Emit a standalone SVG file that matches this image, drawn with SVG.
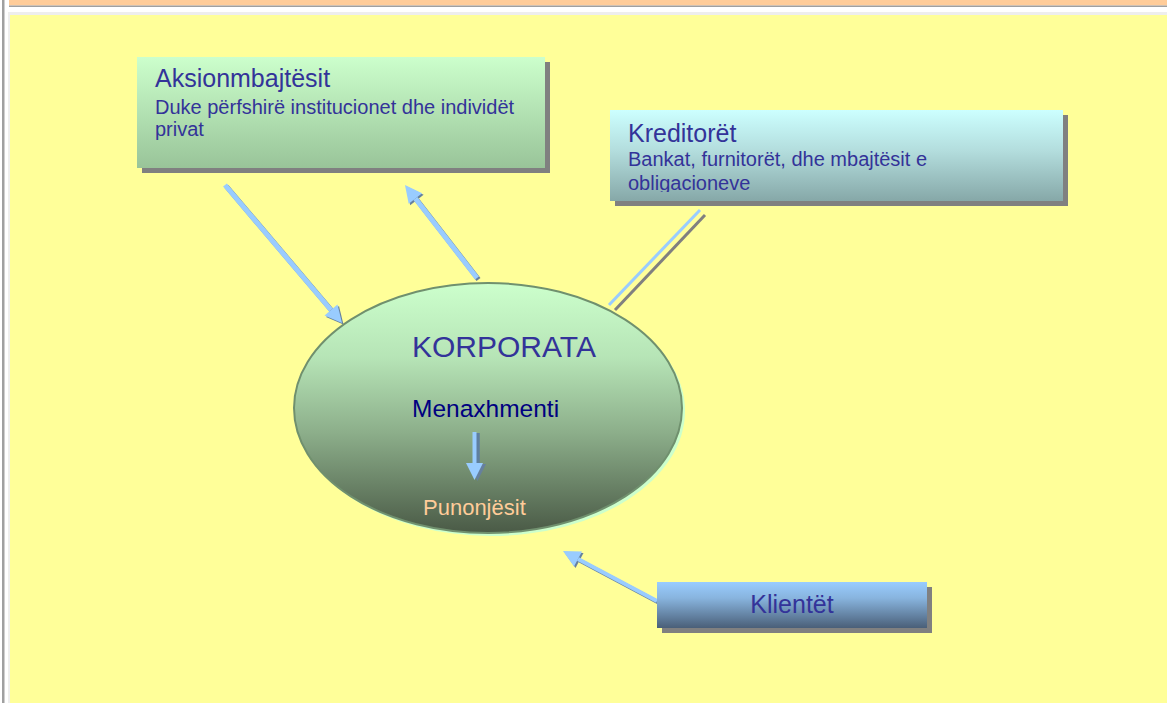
<svg xmlns="http://www.w3.org/2000/svg" width="1167" height="703" viewBox="0 0 1167 703">
<style>
.t{font-family:"Liberation Sans",Arial,sans-serif;fill:#333399}
.title{font-size:25px}
.sub{font-size:20px}
.shadow{fill:#808080}
.shaft{stroke:#99ccff;stroke-width:5;fill:none}
.shaft-sh{stroke:#66809e;stroke-width:5;fill:none}
</style>
<defs>
<linearGradient id="gA" x1="0" y1="0" x2="0" y2="1">
<stop offset="0" stop-color="#ccffcc"/><stop offset="1" stop-color="#99c499"/>
</linearGradient>
<linearGradient id="gK" x1="0" y1="0" x2="0" y2="1">
<stop offset="0" stop-color="#ccffff"/><stop offset="0.45" stop-color="#b3dddd"/><stop offset="1" stop-color="#86a8a8"/>
</linearGradient>
<linearGradient id="gC" x1="0" y1="0" x2="0" y2="1">
<stop offset="0" stop-color="#99ccff"/><stop offset="0.35" stop-color="#88b4de"/><stop offset="1" stop-color="#4a5f78"/>
</linearGradient>
<linearGradient id="gE" x1="0" y1="0" x2="0" y2="1">
<stop offset="0" stop-color="#ccffcc"/><stop offset="0.3" stop-color="#b6e4b6"/><stop offset="0.6" stop-color="#8cae8a"/><stop offset="1" stop-color="#4a5a46"/>
</linearGradient>
<marker id="head" markerUnits="userSpaceOnUse" markerWidth="20" markerHeight="20" refX="0" refY="0" orient="auto" overflow="visible">
<path d="M0,-8.5 L17,0 L0,8.5 z" fill="#99ccff"/>
</marker>
<marker id="head-sh" markerUnits="userSpaceOnUse" markerWidth="20" markerHeight="20" refX="0" refY="0" orient="auto" overflow="visible">
<path d="M0,-8.5 L17,0 L0,8.5 z" fill="#66809e"/>
</marker>
<clipPath id="clipK"><rect x="610" y="110" width="453" height="82"/></clipPath>
</defs>

<g id="background">
<rect x="0" y="0" width="1167" height="703" fill="#ffffff"/>
<rect x="2" y="0" width="2.5" height="703" fill="#a0a0a0"/>
<rect x="9" y="0" width="1158" height="5.5" fill="#ffcc99"/>
<rect x="9" y="5.5" width="1158" height="1.5" fill="#a0a0a0"/>
<rect x="8" y="12" width="1159" height="691" fill="#eeeeee"/>
<rect x="10" y="15" width="1157" height="688" fill="#ffff99"/>
</g>

<g id="connectors">
<g transform="translate(1.5,1.5)">
<line class="shaft-sh" x1="225" y1="185" x2="331" y2="310" marker-end="url(#head-sh)"/>
<line class="shaft-sh" x1="477" y1="278" x2="415.4" y2="198.5" marker-end="url(#head-sh)"/>
<line class="shaft-sh" x1="657" y1="601" x2="578" y2="559" marker-end="url(#head-sh)" style="stroke-width:4"/>
</g>
<line class="shaft" x1="225" y1="185" x2="331" y2="310" marker-end="url(#head)"/>
<line class="shaft" x1="477" y1="278" x2="415.4" y2="198.5" marker-end="url(#head)"/>
<line class="shaft" x1="657" y1="601" x2="578" y2="559" marker-end="url(#head)" style="stroke-width:4"/>
<line x1="705" y1="215" x2="615" y2="310" stroke="#808080" stroke-width="3"/>
<line x1="700" y1="210" x2="609" y2="305" stroke="#99ccff" stroke-width="3"/>
</g>

<g id="node-aksionmbajtesit">
<rect class="shadow" x="142" y="62" width="408" height="111"/>
<rect x="137" y="57" width="408" height="111" fill="url(#gA)"/>
<text class="t title" x="155" y="87">Aksionmbajtësit</text>
<text class="t sub" x="155" y="114">Duke përfshirë institucionet dhe individët</text>
<text class="t sub" x="155" y="136">privat</text>
</g>

<g id="node-kreditoret">
<rect class="shadow" x="615" y="115" width="453" height="91"/>
<rect x="610" y="110" width="453" height="91" fill="url(#gK)"/>
<text class="t title" x="628" y="142">Kreditorët</text>
<g clip-path="url(#clipK)">
<text class="t sub" x="628" y="166">Bankat, furnitorët, dhe mbajtësit e</text>
<text class="t sub" x="628" y="190">obligacioneve</text>
</g>
</g>

<g id="node-korporata">
<ellipse cx="491" cy="411" rx="194" ry="125" fill="#ccffcc"/>
<ellipse cx="488" cy="408" rx="194" ry="125" fill="url(#gE)" stroke="#70906e" stroke-width="2"/>
<text class="t" x="412" y="357" style="font-size:30px">KORPORATA</text>
<text class="t" x="412" y="417" style="font-size:24.5px;fill:#000080">Menaxhmenti</text>
<g id="inner-arrow">
<line x1="477.5" y1="433" x2="477.5" y2="464" stroke="#5f7f9f" stroke-width="4.5" marker-end="url(#head-sh)"/>
<line x1="474.5" y1="432" x2="474.5" y2="463" stroke="#99ccff" stroke-width="4" marker-end="url(#head)"/>
</g>
<text class="t" x="423" y="515" style="font-size:22px;fill:#ffcc99">Punonjësit</text>
</g>

<g id="node-klientet">
<rect class="shadow" x="662" y="587" width="270" height="46"/>
<rect x="657" y="582" width="270" height="46" fill="url(#gC)"/>
<text class="t title" x="792" y="613" text-anchor="middle">Klientët</text>
</g>
</svg>
